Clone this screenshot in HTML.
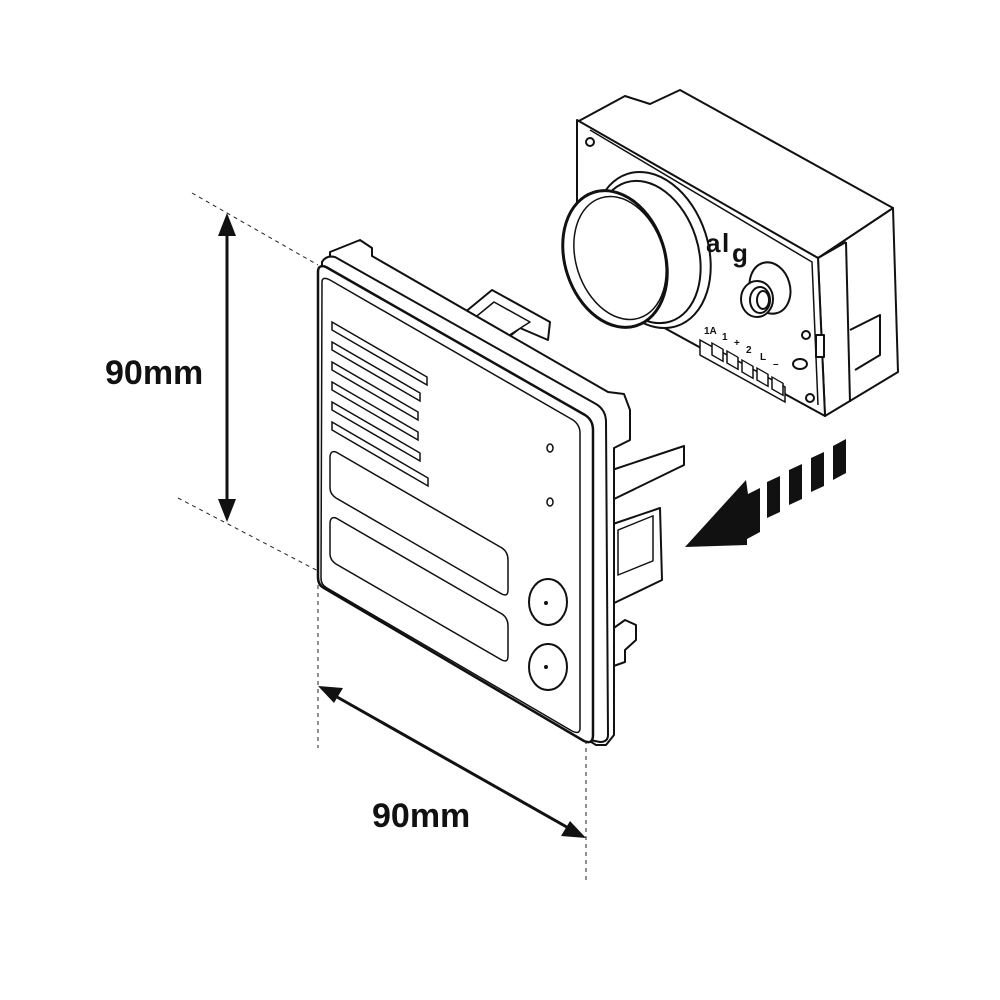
<!DOCTYPE html>
<html><head><meta charset="utf-8"><style>
html,body{margin:0;padding:0;background:#fff;}
svg{display:block;}
text{font-family:"Liberation Sans",sans-serif;font-weight:bold;fill:#111;}
</style></head><body>
<svg width="1000" height="1000" viewBox="0 0 1000 1000" xmlns="http://www.w3.org/2000/svg">
<g fill="none" stroke="#222" stroke-width="1" stroke-dasharray="4,4">
<line x1="192" y1="193" x2="318" y2="265"/>
<line x1="178" y1="498" x2="320" y2="572"/>
<line x1="318" y1="585" x2="318" y2="748"/>
<line x1="586" y1="740" x2="586" y2="880"/>
</g>
<line x1="227" y1="225" x2="227" y2="505" stroke="#111" stroke-width="3"/>
<polygon points="227,213 218,236 236,236" fill="#111"/>
<polygon points="227,522 218,499 236,499" fill="#111"/>
<text x="105" y="384" font-size="34">90mm</text>
<line x1="330" y1="693" x2="572" y2="830" stroke="#111" stroke-width="3"/>
<polygon points="318,686 343,688 334,703" fill="#111"/>
<polygon points="586,838 561,836 570,821" fill="#111"/>
<text x="372" y="827" font-size="34">90mm</text>

<g fill="#fff" stroke="#111" stroke-width="2" stroke-linejoin="round">
<polygon points="818,258 893,208 898,372 825,416"/>
<polygon points="577,122 625,96 650,104 680,90 893,208 818,258"/>
<polygon points="577,120 818,258 825,416 577,280"/>
<line x1="846" y1="242" x2="850" y2="402"/>
<line x1="818" y1="258" x2="846" y2="242"/>
<polyline points="850,330 880,315 880,355 855,370" fill="none"/>
<polyline points="590,130 812,262 818,405" fill="none" stroke-width="1.5"/>
<circle cx="590" cy="142" r="4"/>
<circle cx="806" cy="335" r="4"/>
<ellipse cx="800" cy="364" rx="7" ry="5"/>
<circle cx="810" cy="398" r="4"/>
<rect x="816" y="335" width="8" height="22"/>
<ellipse cx="652" cy="250" rx="56" ry="80" transform="rotate(-18 652 250)"/>
<ellipse cx="648" cy="252" rx="50" ry="73" transform="rotate(-18 648 252)"/>
<ellipse cx="615" cy="259" rx="50" ry="70" transform="rotate(-18 615 259)" stroke-width="3"/>
<ellipse cx="620" cy="258" rx="44" ry="63" transform="rotate(-18 620 258)" stroke-width="1.5"/>
<ellipse cx="770" cy="288" rx="20" ry="26" transform="rotate(-15 770 288)"/>
<ellipse cx="757" cy="299" rx="16" ry="18"/>
<ellipse cx="760" cy="300" rx="10" ry="13"/>
<ellipse cx="763" cy="300" rx="6" ry="9"/>
</g>
<text x="706" y="252" font-size="26" font-weight="normal">a</text>
<text x="722" y="252" font-size="26" font-weight="normal">l</text>
<text x="732" y="262" font-size="26" font-weight="normal">g</text>
<g fill="#fff" stroke="#111" stroke-width="1.5">
<polygon points="700,340 785,387 785,402 700,355" />
<rect x="712" y="343" width="11" height="12" transform="skewY(30)" transform-origin="712 343"/>
<rect x="727" y="351" width="11" height="12" transform="skewY(30)" transform-origin="727 351"/>
<rect x="742" y="360" width="11" height="12" transform="skewY(30)" transform-origin="742 360"/>
<rect x="757" y="368" width="11" height="12" transform="skewY(30)" transform-origin="757 368"/>
<rect x="772" y="377" width="11" height="12" transform="skewY(30)" transform-origin="772 377"/>
</g>
<g font-size="10" font-weight="bold">
<text x="704" y="334">1A</text><text x="722" y="340">1</text><text x="734" y="346">+</text><text x="746" y="353">2</text><text x="760" y="360">L</text><text x="773" y="367">–</text>
</g>

<polygon points="685,547 746,480 748,494 760,488 760,532 747,539 747,545" fill="#111"/>
<g fill="#111">
<polygon points="767,482 780,476 780,512 767,518"/>
<polygon points="789,470 802,464 802,499 789,505"/>
<polygon points="811,458 824,452 824,486 811,492"/>
<polygon points="833,446 846,439 846,473 833,480"/>
</g>

<g fill="#fff" stroke="#111" stroke-width="2" stroke-linejoin="round">
<polygon points="458,318 492,290 550,322 548,340 520,328 505,340"/>
<polygon points="472,320 494,302 530,322 508,336" stroke-width="1.5"/>
<polygon points="612,470 684,446 684,465 612,500"/>
<polygon points="610,525 660,508 662,580 610,605"/>
<rect x="618" y="530" width="35" height="45" transform="skewY(-22)" transform-origin="618 530" stroke-width="1.5"/>
<polygon points="597,640 625,620 636,625 636,640 625,650 625,662 608,668 597,658"/>
<path d="M330,252 L360,240 L372,248 L372,256 L608,392 L624,394 L630,410 L630,440 L614,448 L614,735 L606,745 L596,745 L588,740 L330,585 Z"/>
<path d="M322,262 Q326,255 335,257 L596,404 Q606,410 606,422 L608,735 Q608,742 600,742 L590,740 L320,585 Z"/>
<path d="M318,272 Q318,264 326,267 L585,415 Q593,420 593,430 L593,735 Q593,745 584,741 L324,588 Q318,585 318,577 Z" stroke-width="2.5"/>
<path d="M322,282 Q322,276 330,280 L573,420 Q580,425 580,433 L580,728 Q580,735 572,731 L327,588 Q321,585 321,578 Z" stroke-width="1.5"/>
</g>
<g fill="none" stroke="#111" stroke-width="1.5">
<path d="M332,322 L427,377 L427,385 L332,330 Z"/>
<path d="M332,342 L420,393 L420,401 L332,350 Z"/>
<path d="M332,362 L418,412 L418,420 L332,370 Z"/>
<path d="M332,382 L418,432 L418,440 L332,390 Z"/>
<path d="M332,402 L420,453 L420,461 L332,410 Z"/>
<path d="M332,422 L428,478 L428,486 L332,430 Z"/>
<path d="M336,452 L502,548 Q508,552 508,560 L508,590 Q508,598 500,593 L336,498 Q330,494 330,488 L330,458 Q330,450 336,452 Z"/>
<path d="M336,518 L502,614 Q508,618 508,626 L508,656 Q508,664 500,659 L336,564 Q330,560 330,554 L330,524 Q330,516 336,518 Z"/>
<ellipse cx="548" cy="602" rx="19" ry="23" stroke-width="2"/>
<ellipse cx="548" cy="667" rx="19" ry="23" stroke-width="2"/>
<ellipse cx="550" cy="448" rx="3" ry="4"/>
<ellipse cx="550" cy="502" rx="3" ry="4"/>
</g>
<circle cx="546" cy="603" r="2" fill="#111"/>
<circle cx="546" cy="667" r="2" fill="#111"/>
</svg>
</body></html>
